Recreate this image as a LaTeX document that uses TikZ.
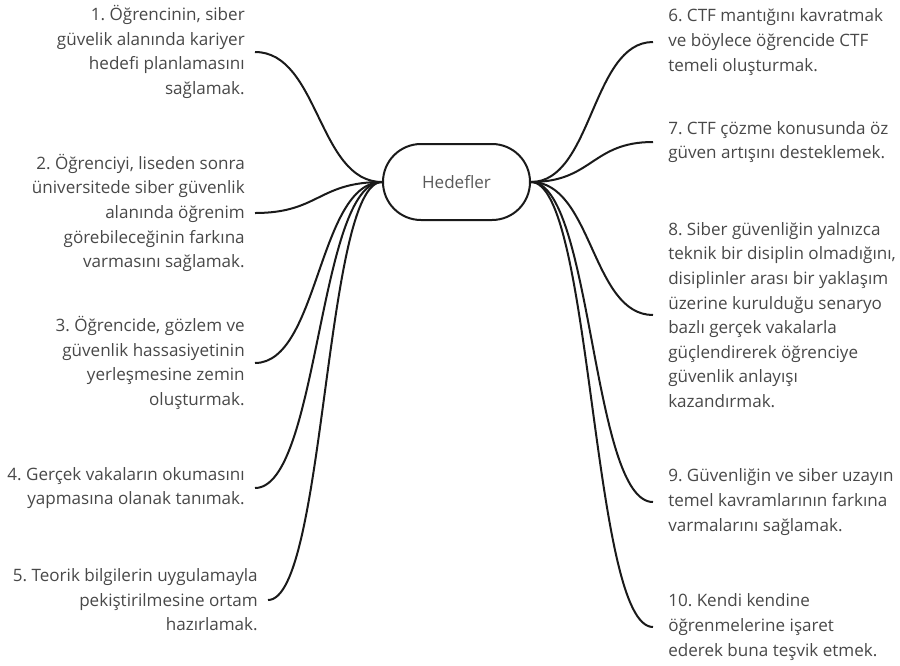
\documentclass[tikz,border=0pt]{standalone}
\usepackage{fontspec}
\setmainfont{Open Sans}
\usetikzlibrary{calc}
\definecolor{txt}{HTML}{484848}
\definecolor{hubtxt}{HTML}{5A5A5A}
\definecolor{ln}{HTML}{1A1A1A}
\begin{document}
\frenchspacing
\begin{tikzpicture}[x=0.75pt,y=-0.75pt,
  lefttxt/.style={anchor=east,align=right,text=txt,inner ysep=0pt,inner xsep=7.5pt,font=\fontsize{12.8}{18.45}\selectfont},
  righttxt/.style={anchor=west,align=left,text=txt,inner ysep=0pt,inner xsep=11.25pt,font=\fontsize{12.8}{18.45}\selectfont},
  hubbox/.style={draw=ln,line width=1.5pt,rounded corners=28.5pt,minimum width=110.25pt,minimum height=57pt,text=hubtxt,font=\fontsize{12.8}{18}\selectfont},
  conn/.style={draw=ln,line width=1.5pt}]
\useasboundingbox (0,0) rectangle (900,665);
\node[hubbox] (hub) at (456.5,182) {Hedefler};
% left items
\node[lefttxt] (t1) at (255,52) {1. Öğrencinin, siber\\güvelik alanında kariyer\\hedefi planlamasını\\sağlamak.};
\node[lefttxt] (t2) at (255,213) {2. Öğrenciyi, liseden sonra\\üniversitede siber güvenlik\\alanında öğrenim\\görebileceğinin farkına\\varmasını sağlamak.};
\node[lefttxt] (t3) at (255,363) {3. Öğrencide, gözlem ve\\güvenlik hassasiyetinin\\yerleşmesine zemin\\oluşturmak.};
\node[lefttxt] (t4) at (255,488) {4. Gerçek vakaların okumasını\\yapmasına olanak tanımak.};
\node[lefttxt] (t5) at (268,600) {5. Teorik bilgilerin uygulamayla\\pekiştirilmesine ortam\\hazırlamak.};
% right items
\node[righttxt] (t6) at (653,42) {6. CTF mantığını kavratmak\\ve böylece öğrencide CTF\\temeli oluşturmak.};
\node[righttxt] (t7) at (653,142) {7. CTF çözme konusunda öz\\güven artışını desteklemek.};
\node[righttxt] (t8) at (653,315) {8. Siber güvenliğin yalnızca\\teknik bir disiplin olmadığını,\\disiplinler arası bir yaklaşım\\üzerine kurulduğu senaryo\\bazlı gerçek vakalarla\\güçlendirerek öğrenciye\\güvenlik anlayışı\\kazandırmak.};
\node[righttxt] (t9) at (653,502) {9. Güvenliğin ve siber uzayın\\temel kavramlarının farkına\\varmalarını sağlamak.};
\node[righttxt] (t10) at (653,627) {10. Kendi kendine\\öğrenmelerine işaret\\ederek buna teşvik etmek.};
% connectors
\foreach \t in {t1,t2,t3,t4}{
  \draw[conn] (hub.west) .. controls +(-64,0) and +(64,0) .. (\t.east);
}
\draw[conn] (hub.west) .. controls +(-57.5,0) and +(57.5,0) .. (t5.east);
\foreach \t in {t6,t7,t8,t9,t10}{
  \draw[conn] (hub.east) .. controls +(61.5,0) and +(-61.5,0) .. (\t.west);
}
\end{tikzpicture}
\end{document}
